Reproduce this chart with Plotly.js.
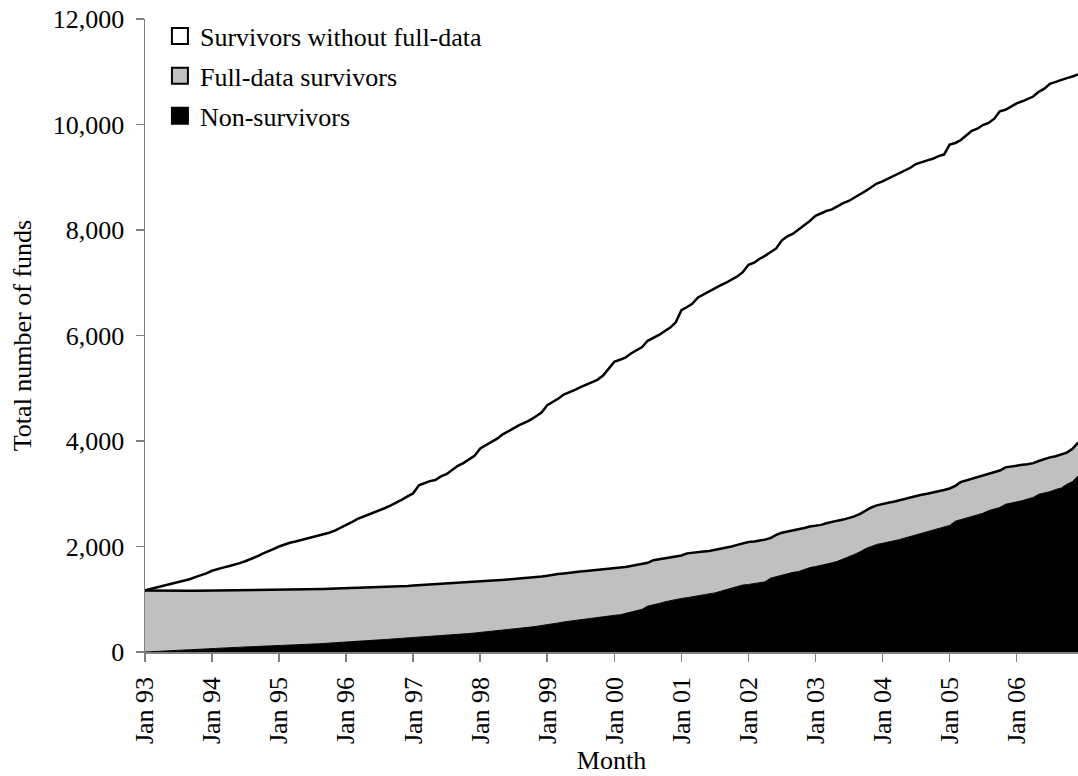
<!DOCTYPE html>
<html>
<head>
<meta charset="utf-8">
<script src="https://cdn.plot.ly/plotly-3.0.1.min.js"></script>
<style>
  html, body { margin: 0; padding: 0; background: #fff; }
  #chart { width: 1078px; height: 776px; }
</style>
</head>
<body>
<div id="chart"></div>
<script>
// Months Jan 1993 .. Dec 2006
const years = [1993,1994,1995,1996,1997,1998,1999,2000,2001,2002,2003,2004,2005,2006];
const months = [];
years.forEach(y => { for (let m = 1; m <= 12; m++) months.push(y + '-' + (m < 10 ? '0' + m : m) + '-01'); });

// Upper boundary of each stacked band (cumulative counts)
// Non-survivors (bottom band)
const nonSurvivors = [
  0, 6, 12, 18, 24, 30, 36, 42, 48, 55, 62, 68,
  72, 76, 80, 84, 88, 92, 96, 100, 104, 107, 110, 112,
  115, 120, 125, 130, 136, 142, 148, 155, 162, 170, 178, 186,
  195, 200, 206, 212, 218, 224, 230, 237, 244, 252, 260, 268,
  276, 280, 284, 290, 297, 304, 312, 320, 330, 340, 350, 360,
  370, 380, 390, 400, 410, 420, 432, 445, 458, 472, 486, 500,
  512, 530, 550, 570, 585, 600, 615, 630, 645, 660, 670, 685,
  695, 705, 730, 760, 790, 810, 870, 890, 920, 950, 975, 1000,
  1015, 1030, 1045, 1060, 1080, 1100, 1120, 1150, 1180, 1220, 1250, 1270,
  1280, 1295, 1310, 1330, 1400, 1430, 1460, 1490, 1510, 1525, 1560, 1600,
  1620, 1640, 1660, 1690, 1720, 1760, 1800, 1850, 1900, 1960, 2000, 2040,
  2060, 2080, 2100, 2130, 2160, 2190, 2220, 2250, 2280, 2320, 2350, 2380,
  2400, 2480, 2510, 2540, 2570, 2600, 2630, 2680, 2710, 2740, 2800, 2820,
  2840, 2870, 2900, 2930, 2990, 3010, 3040, 3080, 3110, 3180, 3230, 3340
];
// Non-survivors + full-data survivors
const nonPlusFullData = [
  1165, 1163, 1162, 1162, 1162, 1162, 1162, 1162, 1163, 1163, 1164, 1165,
  1165, 1166, 1166, 1167, 1167, 1168, 1168, 1169, 1170, 1171, 1172, 1175,
  1178, 1180, 1182, 1184, 1186, 1188, 1190, 1192, 1194, 1197, 1200, 1203,
  1206, 1209, 1212, 1216, 1220, 1224, 1228, 1232, 1237, 1242, 1247, 1252,
  1262, 1268, 1272, 1276, 1280, 1286, 1292, 1298, 1304, 1310, 1318, 1326,
  1336, 1344, 1350, 1358, 1366, 1374, 1382, 1392, 1400, 1410, 1420, 1430,
  1445, 1470, 1480, 1490, 1505, 1515, 1525, 1535, 1545, 1555, 1565, 1580,
  1590, 1600, 1610, 1630, 1650, 1665, 1690, 1740, 1760, 1775, 1790, 1810,
  1830, 1870, 1885, 1895, 1905, 1915, 1935, 1950, 1975, 2000, 2030, 2060,
  2085, 2095, 2110, 2130, 2160, 2220, 2260, 2280, 2300, 2320, 2350, 2380,
  2395, 2410, 2440, 2470, 2490, 2510, 2540, 2570, 2620, 2680, 2740, 2780,
  2810, 2830, 2850, 2870, 2900, 2930, 2960, 2980, 3000, 3020, 3050, 3070,
  3100, 3150, 3220, 3250, 3280, 3310, 3340, 3380, 3410, 3440, 3500, 3520,
  3540, 3550, 3560, 3580, 3620, 3660, 3690, 3710, 3740, 3780, 3850, 3970
];
// Total number of funds (all three groups)
const totalFunds = [
  1170, 1195, 1220, 1250, 1275, 1300, 1330, 1355, 1380, 1420, 1455, 1490,
  1540, 1575, 1600, 1625, 1650, 1685, 1720, 1760, 1810, 1860, 1900, 1950,
  2000, 2040, 2070, 2095, 2120, 2145, 2170, 2200, 2230, 2260, 2300, 2350,
  2410, 2460, 2520, 2560, 2600, 2650, 2690, 2730, 2780, 2830, 2890, 2950,
  3010, 3160, 3200, 3240, 3260, 3330, 3370, 3450, 3530, 3580, 3660, 3720,
  3860, 3920, 3980, 4040, 4120, 4180, 4250, 4300, 4350, 4400, 4470, 4540,
  4680, 4740, 4800, 4880, 4920, 4970, 5020, 5070, 5110, 5160, 5240, 5370,
  5500, 5540, 5580, 5660, 5720, 5780, 5900, 5950, 6010, 6080, 6150, 6250,
  6480, 6540, 6600, 6720, 6780, 6840, 6900, 6950, 7000, 7060, 7120, 7200,
  7340, 7380, 7450, 7510, 7580, 7650, 7800, 7880, 7930, 8010, 8080, 8170,
  8270, 8320, 8360, 8390, 8450, 8510, 8550, 8610, 8670, 8740, 8810, 8880,
  8920, 8970, 9020, 9080, 9130, 9180, 9250, 9290, 9320, 9350, 9400, 9430,
  9620, 9650, 9700, 9790, 9880, 9920, 9990, 10030, 10110, 10250, 10280, 10340,
  10400, 10440, 10480, 10530, 10620, 10680, 10770, 10810, 10850, 10880, 10910, 10950
];

const seriesNames = ['Survivors without full-data', 'Full-data survivors', 'Non-survivors'];
const seriesFills = ['#ffffff', '#c0c0c0', '#000000'];

const FONT = 'Liberation Serif, Times New Roman, Times, serif';
const FS = 26;

const traces = [
  { x: months, y: nonSurvivors, type: 'scatter', mode: 'lines', fill: 'tozeroy',
    fillcolor: '#000000', line: { color: '#000000', width: 1 }, showlegend: false, hoverinfo: 'skip' },
  { x: months, y: nonPlusFullData, type: 'scatter', mode: 'lines', fill: 'tonexty',
    fillcolor: '#c0c0c0', line: { color: '#000000', width: 2.5 }, showlegend: false, hoverinfo: 'skip' },
  { x: months, y: totalFunds, type: 'scatter', mode: 'lines', fill: 'tonexty',
    fillcolor: '#ffffff', line: { color: '#000000', width: 2.5 }, showlegend: false, hoverinfo: 'skip' }
];
// legend entries (square swatches)
seriesNames.forEach((n, i) => {
  traces.push({ x: [null], y: [null], type: 'scatter', mode: 'markers', name: n,
    legendgroup: 'g' + i,
    marker: { symbol: 'square', size: 16, color: seriesFills[i], line: { color: '#000000', width: 2 } } });
});

const layout = {
  width: 1078, height: 776,
  margin: { l: 145, r: 0, t: 19, b: 124, pad: 0 },
  paper_bgcolor: '#ffffff', plot_bgcolor: '#ffffff',
  font: { family: FONT, size: FS, color: '#000000' },
  showlegend: true,
  legend: { x: 0.016, y: 1.01, xanchor: 'left', yanchor: 'top', bgcolor: 'rgba(0,0,0,0)',
            font: { family: FONT, size: FS, color: '#000000' }, traceorder: 'grouped', tracegroupgap: 3 },
  xaxis: {
    type: 'date', range: ['1993-01-01', '2006-12-01'],
    tick0: '1993-01-01', dtick: 'M12', tickformat: '%b %y', tickangle: -90,
    ticks: 'outside', ticklen: 8, tickwidth: 1.5, tickcolor: '#808080', ticklabelstandoff: 5,
    showline: true, linecolor: '#808080', linewidth: 1.5, layer: 'below traces',
    showgrid: false, zeroline: false, automargin: false,
    tickfont: { family: FONT, size: FS, color: '#000000' },
    title: { text: 'Month', font: { family: FONT, size: FS, color: '#000000' } }
  },
  yaxis: {
    range: [0, 12000], dtick: 2000, tickformat: ',d',
    ticks: 'outside', ticklen: 8, tickwidth: 1.5, tickcolor: '#808080', ticklabelstandoff: 6,
    showline: true, linecolor: '#808080', linewidth: 1.5,
    showgrid: false, zeroline: false, automargin: true,
    tickfont: { family: FONT, size: FS, color: '#000000' },
    title: { text: 'Total number of funds', standoff: 13, font: { family: FONT, size: FS, color: '#000000' } }
  }
};

Plotly.newPlot('chart', traces, layout, { displayModeBar: false, staticPlot: true });
</script>
</body>
</html>
